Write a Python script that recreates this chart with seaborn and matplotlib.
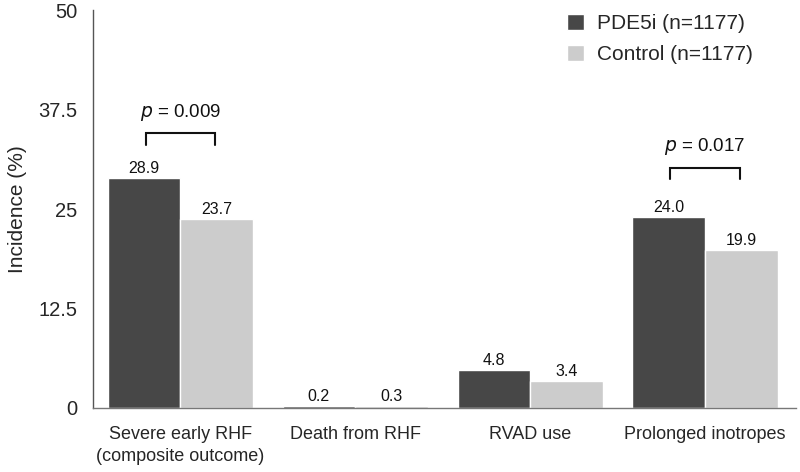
import matplotlib
matplotlib.use("Agg")
import matplotlib.pyplot as plt
import seaborn as sns
import pandas as pd

categories = ["Severe early RHF\n(composite outcome)", "Death from RHF", "RVAD use", "Prolonged inotropes"]
series_names = ["PDE5i (n=1177)", "Control (n=1177)"]
pde5i = [28.9, 0.2, 4.8, 24.0]
control = [23.7, 0.3, 3.4, 19.9]
yticks = [0, 12.5, 25, 37.5, 50]
ytick_labels = ["0", "12.5", "25", "37.5", "50"]
pvals = [(0, "0.009", 34.5, 33.0, 37.1), (3, "0.017", 30.2, 28.8, 32.8)]

df = pd.DataFrame({
    "cat": categories * 2,
    "group": [series_names[0]] * 4 + [series_names[1]] * 4,
    "val": pde5i + control,
})

sns.set_style("white")
plt.rcParams["font.family"] = ["Liberation Sans", "DejaVu Sans"]

fig = plt.figure(figsize=(8, 4.72), dpi=100)
ax = fig.add_axes([0.116, 0.1356, 0.879, 0.8432])
sns.barplot(data=df, x="cat", y="val", hue="group", order=categories,
            hue_order=series_names, palette=["#474747", "#cccccc"],
            width=0.83, ax=ax, saturation=1, errorbar=None)

for cont in ax.containers:
    for bar in cont:
        h = bar.get_height()
        ax.annotate(f"{h:.1f}", (bar.get_x() + bar.get_width() / 2, h),
                    xytext=(0, 1.5), textcoords="offset points",
                    ha="center", va="bottom", fontsize=11.5, color="#111111")

bw = 0.83 / 2
for idx, p, top, bot, ty in pvals:
    x1 = idx - bw / 2 + 0.01
    x2 = idx + bw / 2 - 0.01
    ax.plot([x1, x1, x2, x2], [bot, top, top, bot], color="#111111", lw=1.5,
            solid_joinstyle="miter")
    ax.text(idx, ty, f"$\\it{{p}}$ = {p}", ha="center", va="center", fontsize=13.5,
            color="#111111")

ax.set_xlim(-0.5, 3.52)
ax.set_ylim(0, 50)
ax.set_yticks(yticks)
ax.set_yticklabels(ytick_labels, fontsize=14.5)
ax.tick_params(axis="y", length=0, pad=11)
ax.tick_params(axis="x", length=0, pad=13, labelsize=13)
for lbl in ax.get_xticklabels():
    lbl.set_linespacing(1.38)
ax.set_xlabel("")
ax.set_ylabel("Incidence (%)", fontsize=15)
ax.yaxis.set_label_coords(-0.094, 0.5)
for s in ["top", "right"]:
    ax.spines[s].set_visible(False)
ax.spines["left"].set_color("#555555")
ax.spines["left"].set_linewidth(1.0)
ax.spines["bottom"].set_color("#777777")
ax.spines["bottom"].set_linewidth(1.0)

leg = ax.legend(loc="upper right", bbox_to_anchor=(0.965, 1.038), frameon=False,
                fontsize=15, handlelength=0.85, handleheight=0.85,
                handletextpad=0.6, labelspacing=0.55)

fig.savefig("out.png", dpi=100)
